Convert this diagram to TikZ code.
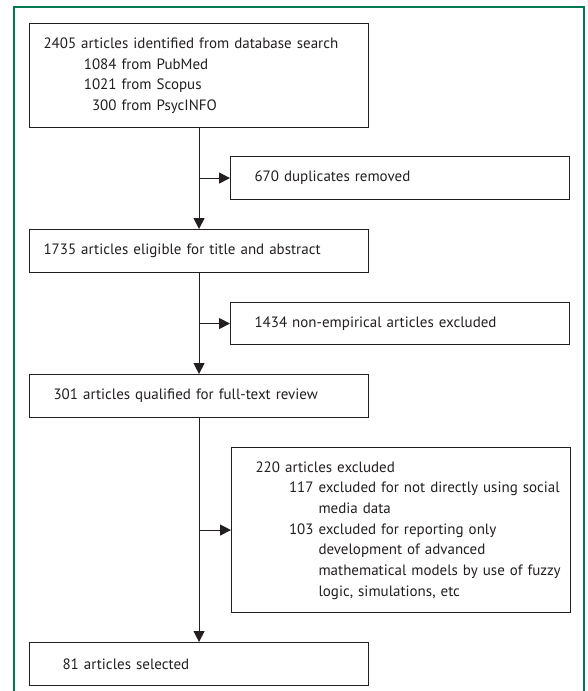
\documentclass[tikz,border=0pt]{standalone}
\usepackage{fontspec}
\setmainfont{PT Sans}
\usetikzlibrary{arrows.meta, positioning, calc}

\definecolor{framegreen}{RGB}{0,122,80}
\definecolor{inkgray}{RGB}{35,31,32}

\begin{document}
\begin{tikzpicture}[
    x=1pt, y=-1pt,
    stagebox/.style={rectangle, draw=inkgray, line width=1.1pt, anchor=north west,
        minimum width=339pt, inner xsep=14pt, inner ysep=0pt, align=left,
        text width=311pt, text=inkgray, font=\fontsize{15}{20.7}\selectfont},
    sidebox/.style={stagebox, inner xsep=24pt, text width=291pt},
    flow/.style={draw=inkgray, line width=1.1pt, -{Triangle[length=11pt, width=11pt]}}
]

% Frame
\useasboundingbox (0,0) rectangle (587,691);
\draw[framegreen, line width=1.2pt] (14,691) -- (14,7) -- (584,7) -- (584,691);

% Main stages
\node[stagebox, minimum height=104pt] (found) at (29,23) {%
    2405 articles identified from database search\\
    \makebox[73pt][r]{1084} from PubMed\\
    \makebox[73pt][r]{1021} from Scopus\\
    \makebox[73pt][r]{300} from PsycINFO};
\node[stagebox, minimum height=43pt] (eligible) at (29,229) {1735 articles eligible for title and abstract};
\node[stagebox, minimum height=43pt] (qualified) at (29,374) {\hspace*{10pt}301 articles qualified for full-text review};
\node[stagebox, minimum height=43pt] (selected) at (29,642) {\hspace*{19pt}81 articles selected};

% Exclusions
\node[sidebox, minimum height=43pt] (dupes) at (230,156) {670 duplicates removed};
\node[sidebox, minimum height=42pt] (nonemp) at (230,302) {1434 non-empirical articles excluded};
\node[sidebox, minimum height=165pt] (fulltext) at (231,447) {%
    \begin{tabular}{@{}r@{\hspace{5pt}}l@{}}
    \multicolumn{2}{@{}l@{}}{220 articles excluded}\\
    \makebox[58pt][r]{117} & excluded for not directly using social\\
     & media data\\
    103 & excluded for reporting only\\
     & development of advanced\\
     & mathematical models by use of fuzzy\\
     & logic, simulations, etc
    \end{tabular}};

% Trunk
\draw[flow] (found) -- (eligible);
\draw[flow] (eligible) -- (qualified);
\draw[flow] (qualified) -- (selected);

% Branches
\draw[flow] (found |- dupes.west) -- (dupes.west);
\draw[flow] (eligible |- nonemp.west) -- (nonemp.west);
\draw[flow] (qualified |- fulltext.west) -- (fulltext.west);

\end{tikzpicture}
\end{document}
